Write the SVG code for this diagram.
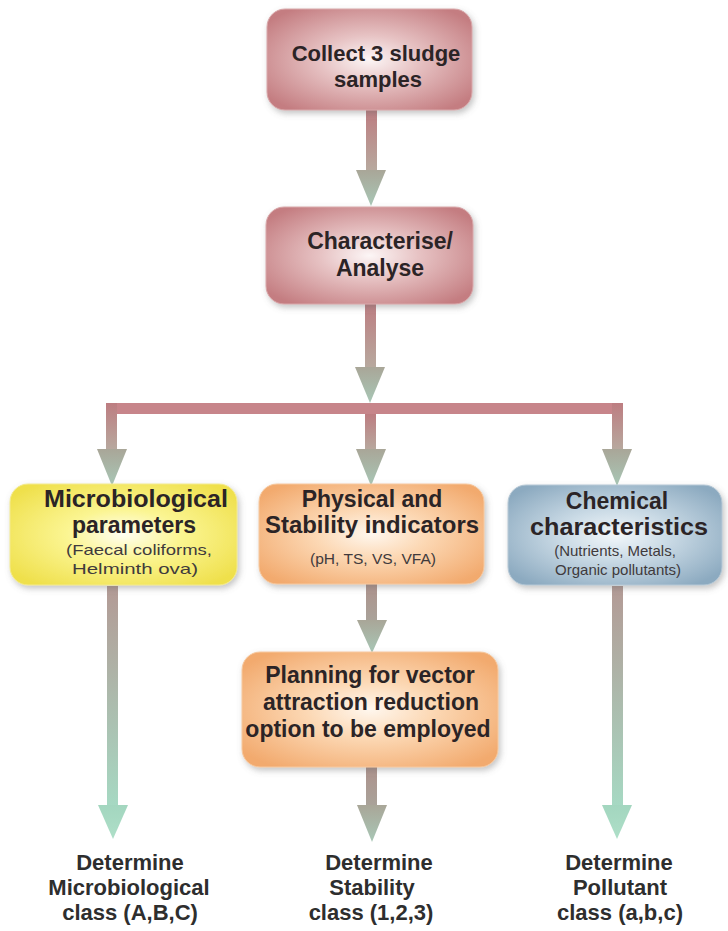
<svg xmlns="http://www.w3.org/2000/svg" width="728" height="931" viewBox="0 0 728 931">
  <style>
    .t { font-family: "Liberation Sans", Arial, sans-serif; font-weight: bold; fill: #2b2426; text-anchor: middle; }
    .h { font-size: 23px; }
    .s { font-size: 15px; font-weight: normal; fill: #403a3c; }
    .b { font-size: 22px; fill: #2e2e2e; }
    .box { filter: url(#shadow); stroke-width: 1; }
  </style>
  <defs>
    <filter id="shadow" x="-10%" y="-15%" width="125%" height="135%">
      <feDropShadow dx="2" dy="3" stdDeviation="3" flood-color="#6b6b6b" flood-opacity="0.4"/>
    </filter>
    <radialGradient id="gRose" cx="0.5" cy="0.5" r="0.62">
      <stop offset="0" stop-color="#fcf6f6"/>
      <stop offset="0.38" stop-color="#e7c3c4"/>
      <stop offset="1" stop-color="#c47d81"/>
    </radialGradient>
    <radialGradient id="gYellow" cx="0.5" cy="0.5" r="0.62">
      <stop offset="0" stop-color="#fffef2"/>
      <stop offset="0.4" stop-color="#fbf592"/>
      <stop offset="1" stop-color="#efe04c"/>
    </radialGradient>
    <radialGradient id="gOrange" cx="0.5" cy="0.5" r="0.62">
      <stop offset="0" stop-color="#fff7ee"/>
      <stop offset="0.4" stop-color="#fcd8b4"/>
      <stop offset="1" stop-color="#f2aa6e"/>
    </radialGradient>
    <radialGradient id="gBlue" cx="0.5" cy="0.5" r="0.62">
      <stop offset="0" stop-color="#f2f7fa"/>
      <stop offset="0.4" stop-color="#cbdbe6"/>
      <stop offset="1" stop-color="#8caac0"/>
    </radialGradient>
    <linearGradient id="shaftRose" x1="0" y1="0" x2="0" y2="1">
      <stop offset="0" stop-color="#bd7d81"/>
      <stop offset="1" stop-color="#b7aa9f"/>
    </linearGradient>
    <linearGradient id="shaftLong" x1="0" y1="0" x2="0" y2="1">
      <stop offset="0" stop-color="#b39a95"/>
      <stop offset="1" stop-color="#a6d9c3"/>
    </linearGradient>
    <linearGradient id="shaftBrown" x1="0" y1="0" x2="0" y2="1">
      <stop offset="0" stop-color="#ad928c"/>
      <stop offset="1" stop-color="#a9a39a"/>
    </linearGradient>
    <linearGradient id="headGrey" x1="0" y1="0" x2="0" y2="1">
      <stop offset="0" stop-color="#a9a698"/>
      <stop offset="1" stop-color="#a8c7b6"/>
    </linearGradient>
    <linearGradient id="headMint" x1="0" y1="0" x2="0" y2="1">
      <stop offset="0" stop-color="#a3d6bf"/>
      <stop offset="1" stop-color="#aedfc8"/>
    </linearGradient>
  </defs>

  <rect width="728" height="931" fill="#ffffff"/>

  <!-- connectors -->
  <g id="connectors">
    <!-- collect -> characterise -->
    <rect x="366" y="110" width="11" height="62" fill="url(#shaftRose)"/>
    <polygon points="356,170 386,170 371,206" fill="url(#headGrey)"/>
    <!-- characterise -> split bar -->
    <rect x="365" y="303" width="11" height="66" fill="url(#shaftRose)"/>
    <polygon points="355,367 385,367 370,403" fill="url(#headGrey)"/>
    <!-- split bar -->
    <rect x="106" y="403" width="517" height="11" fill="#c7858a"/>
    <!-- drops into the three parameter groups -->
    <rect x="106" y="403" width="11" height="48" fill="url(#shaftRose)"/>
    <polygon points="97,449 127,449 112,486" fill="url(#headGrey)"/>
    <rect x="365" y="414" width="11" height="37" fill="url(#shaftRose)"/>
    <polygon points="356,449 386,449 371,486" fill="url(#headGrey)"/>
    <rect x="612" y="403" width="11" height="48" fill="url(#shaftRose)"/>
    <polygon points="602,449 632,449 617,486" fill="url(#headGrey)"/>
    <!-- physical -> planning -->
    <rect x="366" y="584" width="11" height="38" fill="url(#shaftBrown)"/>
    <polygon points="357,620 387,620 372,653" fill="url(#headGrey)"/>
    <!-- outcomes -->
    <rect x="107" y="586" width="11" height="221" fill="url(#shaftLong)"/>
    <polygon points="98,805 128,805 113,839" fill="url(#headMint)"/>
    <rect x="366" y="767" width="11" height="40" fill="url(#shaftBrown)"/>
    <polygon points="357,805 387,805 372,842" fill="url(#headGrey)"/>
    <rect x="612" y="586" width="11" height="221" fill="url(#shaftLong)"/>
    <polygon points="602,805 632,805 617,839" fill="url(#headMint)"/>
  </g>

  <g id="collect">
    <rect class="box" x="267" y="9" width="205" height="101" rx="18" fill="url(#gRose)" stroke="#d9a9ab"/>
    <text class="t h" x="376" y="61" style="font-size:22px">Collect 3 sludge</text>
    <text class="t h" x="378" y="87" style="font-size:22px">samples</text>
  </g>

  <g id="characterise">
    <rect class="box" x="266" y="207" width="207" height="97" rx="18" fill="url(#gRose)" stroke="#d9a9ab"/>
    <text class="t h" x="380" y="249">Characterise/</text>
    <text class="t h" x="380" y="276">Analyse</text>
  </g>

  <g id="microbiological">
    <rect class="box" x="10" y="484" width="227" height="101" rx="18" fill="url(#gYellow)" stroke="#f3ea90"/>
    <text class="t h" x="136" y="507" textLength="184" lengthAdjust="spacingAndGlyphs">Microbiological</text>
    <text class="t h" x="134" y="533">parameters</text>
    <text class="t s" x="139" y="555" textLength="146" lengthAdjust="spacingAndGlyphs">(Faecal coliforms,</text>
    <text class="t s" x="135" y="574" textLength="126" lengthAdjust="spacingAndGlyphs">Helminth ova)</text>
  </g>

  <g id="physical">
    <rect class="box" x="259" y="484" width="225" height="100" rx="18" fill="url(#gOrange)" stroke="#f6c9a0"/>
    <text class="t h" x="372" y="507">Physical and</text>
    <text class="t h" x="372" y="533" textLength="214" lengthAdjust="spacingAndGlyphs">Stability indicators</text>
    <text class="t s" x="373" y="564" style="font-size:14px" textLength="126" lengthAdjust="spacingAndGlyphs">(pH, TS, VS, VFA)</text>
  </g>

  <g id="chemical">
    <rect class="box" x="508" y="485" width="214" height="100" rx="18" fill="url(#gBlue)" stroke="#b7c9d6"/>
    <text class="t h" x="617" y="509">Chemical</text>
    <text class="t h" x="619" y="535" textLength="178" lengthAdjust="spacingAndGlyphs">characteristics</text>
    <text class="t s" x="615" y="556">(Nutrients, Metals,</text>
    <text class="t s" x="618" y="575">Organic pollutants)</text>
  </g>

  <g id="planning">
    <rect class="box" x="242" y="652" width="256" height="115" rx="18" fill="url(#gOrange)" stroke="#f6c9a0"/>
    <text class="t h" x="370" y="683">Planning for vector</text>
    <text class="t h" x="371" y="710">attraction reduction</text>
    <text class="t h" x="368" y="737">option to be employed</text>
  </g>

  <g id="microbiological-class">
    <text class="t b" x="130" y="870">Determine</text>
    <text class="t b" x="129" y="895">Microbiological</text>
    <text class="t b" x="130" y="920">class (A,B,C)</text>
  </g>

  <g id="stability-class">
    <text class="t b" x="379" y="870">Determine</text>
    <text class="t b" x="372" y="895">Stability</text>
    <text class="t b" x="371" y="920">class (1,2,3)</text>
  </g>

  <g id="pollutant-class">
    <text class="t b" x="619" y="870">Determine</text>
    <text class="t b" x="620" y="895">Pollutant</text>
    <text class="t b" x="620" y="920">class (a,b,c)</text>
  </g>
</svg>
